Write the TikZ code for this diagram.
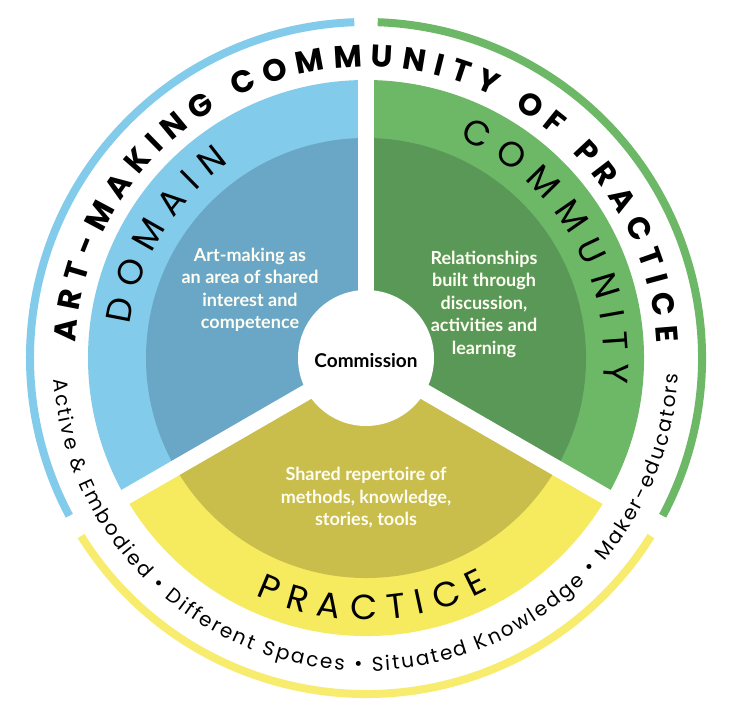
\documentclass[tikz,border=0pt]{standalone}
\usepackage{fontspec}
\setmainfont{Lato}
\newfontfamily\ringfont{Poppins}
\usetikzlibrary{decorations.text}
\definecolor{lblue}{HTML}{82CBEA}
\definecolor{dblue}{HTML}{6AA6C5}
\definecolor{lgreen}{HTML}{6DB866}
\definecolor{dgreen}{HTML}{5A9858}
\definecolor{lyellow}{HTML}{F6EA5E}
\definecolor{dyellow}{HTML}{C9BD4C}
\tikzset{
  ringarc/.style={line width=8pt},
  inner txt/.style={text=white!95!yellow, align=center, font=\bfseries\fontsize{18}{22.5}\selectfont},
  curvetext/.style={decorate, decoration={text along path, text align={fit to path}, text={#1}}},
}
\begin{document}
\begin{tikzpicture}[x=1pt,y=1pt]
\useasboundingbox[fill=white] (-366,-365) rectangle (370,358);
% sectors
\fill[lblue] (0,0) -- (90:278) arc[start angle=90,end angle=210,radius=278] -- cycle;
\fill[lyellow] (0,0) -- (210:278) arc[start angle=210,end angle=330,radius=278] -- cycle;
\fill[lgreen] (0,0) -- (-30:278) arc[start angle=-30,end angle=90,radius=278] -- cycle;
\fill[dblue] (0,0) -- (90:220) arc[start angle=90,end angle=210,radius=220] -- cycle;
\fill[dyellow] (0,0) -- (210:220) arc[start angle=210,end angle=330,radius=220] -- cycle;
\fill[dgreen] (0,0) -- (-30:220) arc[start angle=-30,end angle=90,radius=220] -- cycle;
\foreach \a in {90,210,330} \draw[white,line width=16pt] (0,0) -- (\a:285);
% thin outer arcs
\draw[ringarc,lblue] (92:336) arc[start angle=92,end angle=208,radius=336];
\draw[ringarc,lyellow!90!white] (212:336) arc[start angle=212,end angle=328,radius=336];
\draw[ringarc,lgreen] (332:336) arc[start angle=332,end angle=448,radius=336];
% centre
\node[circle,fill=white,minimum size=136pt,inner sep=0pt] (c) at (0,0) {};
\node[font=\bfseries\fontsize{19}{22}\selectfont] (ct) at (0,-3) {Commission};
\node[inner txt] (dt) at (-116,68) {Art-making as\\an area of shared\\interest and\\competence};
\node[inner txt] (gt) at (118,54) {Relationships\\built through\\discussion,\\activities and\\learning};
\node[inner txt] (pt) at (0,-140) {Shared repertoire of\\methods, knowledge,\\stories, tools};
% curved titles
\path[curvetext={|\ringfont\bfseries\fontsize{31}{31}\selectfont|ART-MAKING COMMUNITY OF PRACTICE}]
  (177:291) arc[start angle=177,end angle=3,radius=291];
\path[curvetext={|\ringfont\fontsize{20}{20}\selectfont|Active {\&} Embodied • Different Spaces • Situated Knowledge • Maker-educators}]
  (184:313) arc[start angle=184,end angle=357,radius=313];
\path[curvetext={|\ringfont\fontsize{35}{35}\selectfont|DOMAIN}]
  (172:238) arc[start angle=172,end angle=125,radius=238];
\path[curvetext={|\ringfont\fontsize{35}{35}\selectfont|COMMUNITY}]
  (67:238) arc[start angle=67,end angle=-6,radius=238];
\path[curvetext={|\ringfont\fontsize{35}{35}\selectfont|PRACTICE}]
  (245:262) arc[start angle=245,end angle=298,radius=262];
\end{tikzpicture}
\end{document}
